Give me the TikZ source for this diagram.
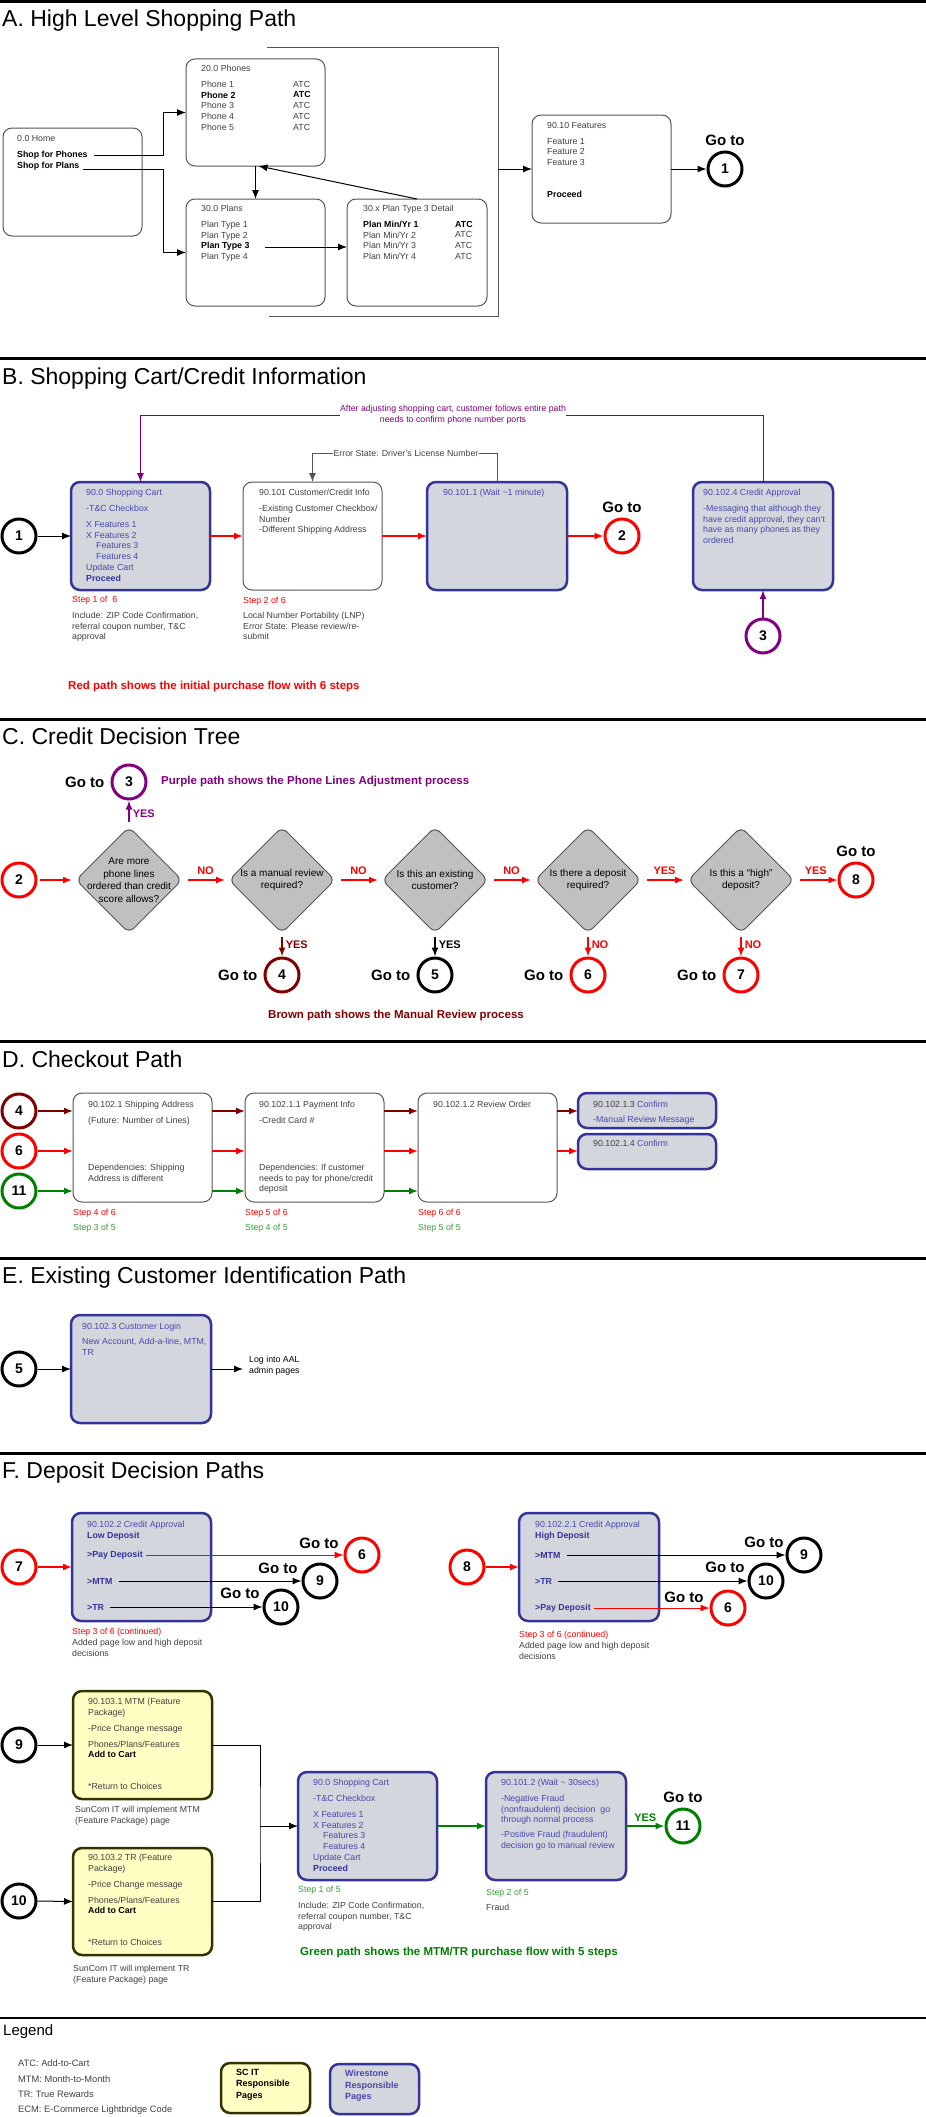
\documentclass[tikz,border=0pt]{standalone}
\usepackage{fontspec}
\setmainfont{Liberation Sans}
\usetikzlibrary{arrows.meta,positioning,shapes.geometric}
\definecolor{bleubord}{RGB}{51,51,153}
\definecolor{bleutexte}{RGB}{72,72,170}
\definecolor{grisfond}{RGB}{212,214,222}
\definecolor{grisbord}{RGB}{85,85,85}
\definecolor{gristexte}{RGB}{64,64,64}
\definecolor{losangefond}{RGB}{192,192,192}
\definecolor{jaunefond}{RGB}{255,255,196}
\definecolor{olivebord}{RGB}{51,51,0}
\definecolor{rouge}{RGB}{255,0,0}
\definecolor{pourpre}{RGB}{128,0,128}
\definecolor{brun}{RGB}{128,0,0}
\definecolor{vert}{RGB}{0,128,0}
\definecolor{vertclair}{RGB}{50,160,50}

\begin{document}
\begin{tikzpicture}[x=1pt,y=-1pt]
	% Dimensions (MODIFIABLES)
	\def\LargeurBoite{139pt}
	\def\HauteurBoite{108pt}
	% Styles (MODIFIABLES)
	\tikzstyle{fleche}=[-{Latex[length=9pt,width=7pt]},line width=1pt]
	\tikzstyle{flecherouge}=[fleche,color=rouge,line width=1.5pt]
	\tikzstyle{flechebrune}=[fleche,color=brun,line width=1.5pt]
	\tikzstyle{flecheverte}=[fleche,color=vert,line width=1.5pt]
	\tikzstyle{flechepourpre}=[fleche,color=pourpre,line width=1.5pt]
	\tikzstyle{trait}=[line width=1pt,color=grisbord]
	\tikzstyle{separation}=[line width=3pt]
	\tikzstyle{boite}=[draw=grisbord,line width=1pt,fill=white,rounded corners=9pt,inner sep=0,outer sep=0,anchor=north west,minimum width=\LargeurBoite,minimum height=\HauteurBoite]
	\tikzstyle{boiteb}=[boite,draw=bleubord,line width=2.5pt,fill=grisfond]
	\tikzstyle{boitej}=[boite,draw=olivebord,line width=2.5pt,fill=jaunefond]
	\tikzstyle{texte}=[inner sep=0,anchor=north west,align=left,text=gristexte,font=\fontsize{8.8}{10.75}\selectfont]
	\tikzstyle{texteb}=[texte,text=bleutexte]
	\tikzstyle{choix}=[texte,anchor=west,text=bleubord,font=\bfseries\fontsize{8.8}{10.75}\selectfont]
	\tikzstyle{titre}=[inner sep=0,anchor=base west,font=\fontsize{23}{23}\selectfont]
	\tikzstyle{goto}=[inner sep=0,font=\bfseries\fontsize{15}{15}\selectfont]
	\tikzstyle{cercle}=[circle,draw,line width=3pt,minimum size=34pt,inner sep=0,fill=white,font=\bfseries\fontsize{14}{14}\selectfont]
	\tikzstyle{losange}=[diamond,draw=grisbord,line width=1pt,fill=losangefond,rounded corners=7pt,minimum width=106pt,minimum height=106pt,inner sep=0,outer sep=0]
	\tikzstyle{question}=[align=center,inner sep=0,font=\fontsize{10}{12.4}\selectfont]
	\tikzstyle{reponse}=[inner sep=1pt,font=\bfseries\fontsize{11}{11}\selectfont]
	\tikzstyle{chemin}=[inner sep=0,anchor=west,font=\bfseries\fontsize{11.5}{11.5}\selectfont]
	\useasboundingbox (0,0) rectangle (926,2117);
	%
	% A. High Level Shopping Path
	\draw[separation] (0,1.7) -- (926,1.7);
	\node[titre] (titreA) at (2,27) {A. High Level Shopping Path};
	\node[boite] (home) at (3,128) {};
	\node[texte] (homeT) at (17,134.8) {0.0 Home};
	\node[texte,text=black] (shopPh) at (17,150.8) {\bfseries Shop for Phones};
	\node[texte,text=black] (shopPl) at (17,161.8) {\bfseries Shop for Plans};
	\node[boite,minimum height=107pt] (phones) at (186,59) {};
	\node[texte] (phonesT) at (201,64.8) {20.0 Phones};
	\node[texte] (phonesL) at (201,80.8) {Phone 1\\\textbf{\color{black}Phone 2}\\Phone 3\\Phone 4\\Phone 5};
	\node[texte] (phonesA) at (293,80.8) {ATC\\\textbf{\color{black}ATC}\\ATC\\ATC\\ATC};
	\node[boite,minimum height=107pt] (plans) at (186,199) {};
	\node[texte] (plansT) at (201,204.8) {30.0 Plans};
	\node[texte] (plansL) at (201,220.8) {Plan Type 1\\Plan Type 2\\\textbf{\color{black}Plan Type 3}\\Plan Type 4};
	\coordinate (type3) at (265,247);
	\node[boite,minimum width=140pt,minimum height=107pt] (detail) at (347,199) {};
	\node[texte] (detailT) at (363,204.8) {30.x Plan Type 3 Detail};
	\node[texte] (detailL) at (363,220.8) {\textbf{\color{black}Plan Min/Yr 1}\\Plan Min/Yr 2\\Plan Min/Yr 3\\Plan Min/Yr 4};
	\node[texte] (detailA) at (455,220.8) {\textbf{\color{black}ATC}\\ATC\\ATC\\ATC};
	\node[boite] (features) at (532,115) {};
	\node[texte] (featuresT) at (547,121.8) {90.10 Features};
	\node[texte] (featuresL) at (547,137.8) {Feature 1\\Feature 2\\Feature 3\\[21pt]\textbf{\color{black}Proceed}};
	\node[cercle] (unA) at (725,169) {1};
	\node[goto,above=5pt of unA] (allerA) {Go to};
	\coordinate (accolade) at (498,169);
	% Arcs A
	\draw[fleche] ([xshift=6pt]shopPh.east) -| ([xshift=-23pt]phones.west) -- (phones.west);
	\draw[fleche] ([xshift=4pt,yshift=-3pt]shopPl.east) -| ([xshift=-23pt]plans.west) -- (plans.west);
	\draw[fleche] (phones.south) -- (plans.north);
	\draw[fleche] (detail.north) -- ([xshift=3pt]phones.south);
	\draw[fleche] (type3) -- (type3 -| detail.west);
	\draw[trait] (267,48) -- (498,48) -- (498,316) -- (269,316);
	\draw[fleche] (accolade) -- (features.west);
	\draw[fleche] (features.east) -- (unA.west);
	%
	% B. Shopping Cart/Credit Information
	\draw[separation] (0,358) -- (926,358);
	\node[titre] (titreB) at (2,384) {B. Shopping Cart/Credit Information};
	\node[cercle] (unB) at (19,536) {1};
	\node[boiteb] (panier) at (71,482) {};
	\node[texteb] (panierT) at (86,488.8) {90.0 Shopping Cart\\[5.25pt]-T\&C Checkbox\\[5.25pt]X Features 1\\X Features 2\\\hspace*{10pt}Features 3\\\hspace*{10pt}Features 4\\Update Cart\\\textbf{\color{bleubord}Proceed}};
	\node[boite] (client) at (243,482) {};
	\node[texte] (clientT) at (259,488.8) {90.101 Customer/Credit Info\\[5.25pt]-Existing Customer Checkbox/\\Number\\-Different Shipping Address};
	\node[boiteb,minimum width=140pt] (attente) at (427,482) {};
	\node[texteb] (attenteT) at (443,488.8) {90.101.1 (Wait \textasciitilde1 minute)};
	\node[cercle,draw=rouge] (deuxB) at (622,536) {2};
	\node[goto,above=5pt of deuxB] (allerB) {Go to};
	\node[boiteb,minimum width=140pt] (credit) at (693,482) {};
	\node[texteb] (creditT) at (703,488.8) {90.102.4 Credit Approval\\[5.25pt]-Messaging that although they\\have credit approval, they can't\\have as many phones as they\\ordered};
	\node[cercle,draw=pourpre] (troisB) at (763,636) {3};
	\node[texte,anchor=center,align=center,text=pourpre] (retour) at (453,415) {After adjusting shopping cart, customer follows entire path\\needs to confirm phone number ports};
	\node[texte,anchor=center] (erreur) at (406,453) {Error State: Driver's License Number};
	\node[texte,text=rouge] (etape1) at (72,595.8) {Step 1 of\ \ 6};
	\node[texte] (note1) at (72,611.8) {Include: ZIP Code Confirmation,\\referral coupon number, T\&C\\approval};
	\node[texte,text=rouge] (etape2) at (243,596.8) {Step 2 of 6};
	\node[texte] (note2) at (243,611.8) {Local Number Portability (LNP)\\Error State: Please review/re-\\submit};
	\node[chemin,text=rouge] (cheminRouge) at (68,687) {Red path shows the initial purchase flow with 6 steps};
	% Arcs B
	\draw[fleche] (unB.east) -- (panier.west);
	\draw[flecherouge] (panier.east) -- (client.west);
	\draw[flecherouge] (client.east) -- (attente.west);
	\draw[flecherouge] (attente.east) -- (deuxB.west);
	\draw[flechepourpre] (troisB.north) -- (credit.south);
	\draw[line width=1pt,color=pourpre] (credit.north) |- (retour.east);
	\draw[fleche,color=pourpre] (retour.west) -| (panier.north);
	\draw[fleche,color=grisbord] (erreur.west) -| (client.north);
	\draw[trait] (erreur.east) -| (attente.north);
	%
	% C. Credit Decision Tree
	\draw[separation] (0,719) -- (926,719);
	\node[titre] (titreC) at (2,744) {C. Credit Decision Tree};
	\node[cercle,draw=rouge] (deuxC) at (19,880) {2};
	\node[losange] (q1) at (129,880) {};
	\node[question] (q1T) at (q1) {Are more\\phone lines\\ordered than credit\\score allows?};
	\node[losange] (q2) at (282,880) {};
	\node[question] (q2T) at (q2) {Is a manual review\\required?};
	\node[losange] (q3) at (435,880) {};
	\node[question] (q3T) at (q3) {Is this an existing\\customer?};
	\node[losange] (q4) at (588,880) {};
	\node[question] (q4T) at (q4) {Is there a deposit\\required?};
	\node[losange] (q5) at (741,880) {};
	\node[question] (q5T) at (q5) {Is this a ``high''\\deposit?};
	\node[cercle,draw=pourpre] (troisC) at (129,782) {3};
	\node[goto,left=6pt of troisC] (allerC3) {Go to};
	\node[chemin,text=pourpre] (cheminPourpre) at (161,782) {Purple path shows the Phone Lines Adjustment process};
	\node[cercle,draw=rouge] (huitC) at (856,880) {8};
	\node[goto,above=5pt of huitC] (allerC8) {Go to};
	\node[cercle,draw=brun] (quatreC) at (282,975) {4};
	\node[goto,left=6pt of quatreC] (allerC4) {Go to};
	\node[cercle] (cinqC) at (435,975) {5};
	\node[goto,left=6pt of cinqC] (allerC5) {Go to};
	\node[cercle,draw=rouge] (sixC) at (588,975) {6};
	\node[goto,left=6pt of sixC] (allerC6) {Go to};
	\node[cercle,draw=rouge] (septC) at (741,975) {7};
	\node[goto,left=6pt of septC] (allerC7) {Go to};
	\node[chemin,text=brun] (cheminBrun) at (268,1016) {Brown path shows the Manual Review process};
	% Arcs C
	\draw[flecherouge,shorten <=2pt,shorten >=4pt] (deuxC.east) -- (q1.west);
	\draw[flecherouge,shorten <=6pt,shorten >=4pt] (q1.east) -- (q2.west) node[reponse,midway,above=4pt]{NO};
	\draw[flecherouge,shorten <=6pt,shorten >=4pt] (q2.east) -- (q3.west) node[reponse,midway,above=4pt]{NO};
	\draw[flecherouge,shorten <=6pt,shorten >=4pt] (q3.east) -- (q4.west) node[reponse,midway,above=4pt]{NO};
	\draw[flecherouge,shorten <=6pt,shorten >=4pt] (q4.east) -- (q5.west) node[reponse,midway,above=4pt]{YES};
	\draw[flecherouge,shorten <=6pt] (q5.east) -- (huitC.west) node[reponse,midway,above=4pt]{YES};
	\draw[flechepourpre,shorten <=5pt] (q1.north) -- (troisC.south) node[reponse,midway,right=2pt]{YES};
	\draw[flechebrune,shorten <=4pt] (q2.south) -- (quatreC.north) node[reponse,midway,right=2pt]{YES};
	\draw[fleche,line width=1.5pt,shorten <=4pt] (q3.south) -- (cinqC.north) node[reponse,midway,right=2pt]{YES};
	\draw[flecherouge,shorten <=4pt] (q4.south) -- (sixC.north) node[reponse,midway,right=2pt]{NO};
	\draw[flecherouge,shorten <=4pt] (q5.south) -- (septC.north) node[reponse,midway,right=2pt]{NO};
	%
	% D. Checkout Path
	\draw[separation] (0,1041.5) -- (926,1041.5);
	\node[titre] (titreD) at (2,1067) {D. Checkout Path};
	\node[cercle,draw=brun] (quatreD) at (19,1111) {4};
	\node[cercle,draw=rouge] (sixD) at (19,1151) {6};
	\node[cercle,draw=vert] (onzeD) at (19,1191) {11};
	\node[boite,minimum height=109pt] (livraison) at (73,1093) {};
	\node[texte] (livraisonT) at (88,1100.8) {90.102.1 Shipping Address\\[5.25pt](Future: Number of Lines)\\[36.25pt]Dependencies: Shipping\\Address is different};
	\node[boite,minimum height=109pt] (paiement) at (245,1093) {};
	\node[texte] (paiementT) at (259,1100.8) {90.102.1.1 Payment Info\\[5.25pt]-Credit Card \#\\[36.25pt]Dependencies: If customer\\needs to pay for phone/credit\\deposit};
	\node[boite,minimum height=109pt] (revue) at (418,1093) {};
	\node[texte] (revueT) at (433,1100.8) {90.102.1.2 Review Order};
	\node[boiteb,minimum width=138pt,minimum height=35pt] (confirmA) at (578,1093) {};
	\node[texte] (confirmAT) at (593,1100.8) {90.102.1.3 {\color{bleutexte}Confirm}\\[4.25pt]{\color{bleutexte}-Manual Review Message}};
	\node[boiteb,minimum width=138pt,minimum height=35pt] (confirmB) at (578,1134) {};
	\node[texte] (confirmBT) at (593,1140) {90.102.1.4 {\color{bleutexte}Confirm}};
	\node[texte,text=rouge] (etape4) at (73,1208.8) {Step 4 of 6};
	\node[texte,text=vertclair] (etape3v) at (73,1223.8) {Step 3 of 5};
	\node[texte,text=rouge] (etape5) at (245,1208.8) {Step 5 of 6};
	\node[texte,text=vertclair] (etape4v) at (245,1223.8) {Step 4 of 5};
	\node[texte,text=rouge] (etape6) at (418,1208.8) {Step 6 of 6};
	\node[texte,text=vertclair] (etape5v) at (418,1223.8) {Step 5 of 5};
	% Arcs D
	\draw[flechebrune] (quatreD.east) -- (quatreD.east -| livraison.west);
	\draw[flechebrune] (livraison.east |- quatreD) -- (paiement.west |- quatreD);
	\draw[flechebrune] (paiement.east |- quatreD) -- (revue.west |- quatreD);
	\draw[flechebrune] (revue.east |- quatreD) -- (confirmA.west |- quatreD);
	\draw[flecherouge] (sixD.east) -- (sixD.east -| livraison.west);
	\draw[flecherouge] (livraison.east |- sixD) -- (paiement.west |- sixD);
	\draw[flecherouge] (paiement.east |- sixD) -- (revue.west |- sixD);
	\draw[flecherouge] (revue.east |- sixD) -- (confirmB.west |- sixD);
	\draw[flecheverte] (onzeD.east) -- (onzeD.east -| livraison.west);
	\draw[flecheverte] (livraison.east |- onzeD) -- (paiement.west |- onzeD);
	\draw[flecheverte] (paiement.east |- onzeD) -- (revue.west |- onzeD);
	%
	% E. Existing Customer Identification Path
	\draw[separation] (0,1258) -- (926,1258);
	\node[titre] (titreE) at (2,1283) {E. Existing Customer Identification Path};
	\node[cercle] (cinqE) at (19,1369) {5};
	\node[boiteb,minimum width=140pt] (connexion) at (71,1315) {};
	\node[texteb] (connexionT) at (82,1322.8) {90.102.3 Customer Login\\[4.25pt]New Account, Add-a-line, MTM,\\TR};
	\node[texte,anchor=west,text=black] (aal) at (249,1366) {Log into AAL\\admin pages};
	% Arcs E
	\draw[fleche] (cinqE.east) -- (connexion.west);
	\draw[fleche,shorten >=6pt] (connexion.east) -- (connexion.east -| aal.west);
	%
	% F. Deposit Decision Paths
	\draw[separation] (0,1453) -- (926,1453);
	\node[titre] (titreF) at (2,1478) {F. Deposit Decision Paths};
	\node[cercle,draw=rouge] (septF) at (19,1567) {7};
	\node[boiteb] (depotBas) at (72,1513) {};
	\node[texteb] (depotBasT) at (87,1520.8) {90.102.2 Credit Approval\\\textbf{\color{bleubord}Low Deposit}};
	\node[choix] (payerBas) at (87,1555) {>Pay Deposit};
	\node[choix] (mtmBas) at (87,1581) {>MTM};
	\node[choix] (trBas) at (87,1607) {>TR};
	\node[cercle,draw=rouge] (sixF) at (362,1555) {6};
	\node[goto] (allerF6) at ([xshift=-43pt,yshift=12pt]sixF) {Go to};
	\node[cercle] (neufF) at (320,1581) {9};
	\node[goto] (allerF9) at ([xshift=-42pt,yshift=13pt]neufF) {Go to};
	\node[cercle] (dixF) at (281,1607) {10};
	\node[goto] (allerF10) at ([xshift=-41pt,yshift=14pt]dixF) {Go to};
	\node[texte,text=rouge] (etapeBas) at (72,1627.8) {Step 3 of 6 (continued)};
	\node[texte] (noteBas) at (72,1638.8) {Added page low and high deposit\\decisions};
	\node[cercle,draw=rouge] (huitF) at (467,1567) {8};
	\node[boiteb,minimum width=140pt] (depotHaut) at (519,1513) {};
	\node[texteb] (depotHautT) at (535,1520.8) {90.102.2.1 Credit Approval\\\textbf{\color{bleubord}High Deposit}};
	\node[choix] (mtmHaut) at (535,1555) {>MTM};
	\node[choix] (trHaut) at (535,1581) {>TR};
	\node[choix] (payerHaut) at (535,1608) {>Pay Deposit};
	\node[cercle] (neufG) at (804,1555) {9};
	\node[goto] (allerG9) at ([xshift=-40pt,yshift=13pt]neufG) {Go to};
	\node[cercle] (dixG) at (766,1581) {10};
	\node[goto] (allerG10) at ([xshift=-41pt,yshift=14pt]dixG) {Go to};
	\node[cercle,draw=rouge] (sixG) at (728,1608) {6};
	\node[goto] (allerG6) at ([xshift=-44pt,yshift=11pt]sixG) {Go to};
	\node[texte,text=rouge] (etapeHaut) at (519,1630.8) {Step 3 of 6 (continued)};
	\node[texte] (noteHaut) at (519,1641.8) {Added page low and high deposit\\decisions};
	% Arcs F (haut)
	\draw[flecherouge] (septF.east) -- (depotBas.west);
	\draw[fleche,color=rouge,shorten <=3pt] (payerBas.east) -- (sixF.west);
	\draw[fleche,shorten <=6pt] (mtmBas.east) -- (neufF.west);
	\draw[fleche,shorten <=6pt] (trBas.east) -- (dixF.west);
	\draw[flecherouge] (huitF.east) -- (depotHaut.west);
	\draw[fleche,shorten <=6pt] (mtmHaut.east) -- (neufG.west);
	\draw[fleche,shorten <=6pt] (trHaut.east) -- (dixG.west);
	\draw[fleche,color=rouge,shorten <=3pt] (payerHaut.east) -- (sixG.west);
	%
	\node[cercle] (neufH) at (19,1745) {9};
	\node[boitej] (mtmPage) at (73,1691) {};
	\node[texte] (mtmPageT) at (88,1697.8) {90.103.1 MTM (Feature\\Package)\\[5.25pt]-Price Change message\\[5.25pt]Phones/Plans/Features\\\textbf{\color{black}Add to Cart}\\[21pt]*Return to Choices};
	\node[texte] (mtmNote) at (75,1805.8) {SunCom IT will implement MTM\\(Feature Package) page};
	\node[cercle] (dixH) at (19,1901) {10};
	\node[boitej,minimum height=107pt] (trPage) at (73,1848) {};
	\node[texte] (trPageT) at (88,1853.8) {90.103.2 TR (Feature\\Package)\\[5.25pt]-Price Change message\\[5.25pt]Phones/Plans/Features\\\textbf{\color{black}Add to Cart}\\[21pt]*Return to Choices};
	\node[texte] (trNote) at (73,1964.8) {SunCom IT will implement TR\\(Feature Package) page};
	\coordinate (jonction) at (260,1826);
	\node[boiteb] (panierF) at (298,1772) {};
	\node[texteb] (panierFT) at (313,1778.8) {90.0 Shopping Cart\\[5.25pt]-T\&C Checkbox\\[5.25pt]X Features 1\\X Features 2\\\hspace*{10pt}Features 3\\\hspace*{10pt}Features 4\\Update Cart\\\textbf{\color{bleubord}Proceed}};
	\node[texte,text=vertclair] (etapeV1) at (298,1885.8) {Step 1 of 5};
	\node[texte] (noteV1) at (298,1901.8) {Include: ZIP Code Confirmation,\\referral coupon number, T\&C\\approval};
	\node[chemin,text=vert] (cheminVert) at (300,1953) {Green path shows the MTM/TR purchase flow with 5 steps};
	\node[boiteb,minimum width=140pt] (fraude) at (486,1772) {};
	\node[texteb] (fraudeT) at (501,1778.8) {90.101.2 (Wait \textasciitilde{} 30secs)\\[5.25pt]-Negative Fraud\\(nonfraudulent) decision\ \ go\\through normal process\\[4.25pt]-Positive Fraud (fraudulent)\\decision go to manual review};
	\node[texte,text=vertclair] (etapeV2) at (486,1888.8) {Step 2 of 5};
	\node[texte] (noteV2) at (486,1903.8) {Fraud};
	\node[cercle,draw=vert] (onzeF) at (683,1826) {11};
	\node[goto,above=5pt of onzeF] (allerF11) {Go to};
	% Arcs F (bas)
	\draw[fleche] (neufH.east) -- (mtmPage.west);
	\draw[fleche] (dixH.east) -- (trPage.west);
	\draw[trait,color=black] (mtmPage.east) -| (jonction) |- (trPage.east);
	\draw[fleche] (jonction) -- (panierF.west);
	\draw[flecheverte] (panierF.east) -- (fraude.west);
	\draw[flecheverte] (fraude.east) -- (onzeF.west) node[reponse,midway,above=3pt]{YES};
	%
	% Legend
	\draw[line width=2pt] (0,2018) -- (926,2018);
	\node[inner sep=0,anchor=west,font=\fontsize{15}{15}\selectfont] (legende) at (3,2032) {Legend};
	\node[texte,anchor=west,font=\fontsize{9.3}{9.3}\selectfont] (legATC) at (18,2063) {ATC: Add-to-Cart};
	\node[texte,anchor=west,font=\fontsize{9.3}{9.3}\selectfont] (legMTM) at (18,2079) {MTM: Month-to-Month};
	\node[texte,anchor=west,font=\fontsize{9.3}{9.3}\selectfont] (legTR) at (18,2094) {TR: True Rewards};
	\node[texte,anchor=west,font=\fontsize{9.3}{9.3}\selectfont] (legECM) at (18,2110) {ECM: E-Commerce Lightbridge Code};
	\node[boitej,minimum width=89pt,minimum height=50pt] (legJaune) at (221,2063) {};
	\node[texte,text=black,font=\bfseries\fontsize{9}{11.5}\selectfont] (legJauneT) at (236,2068.8) {SC IT\\Responsible\\Pages};
	\node[boiteb,minimum width=89pt,minimum height=50pt] (legBleu) at (330,2064) {};
	\node[texte,text=bleutexte,font=\bfseries\fontsize{9}{11.5}\selectfont] (legBleuT) at (345,2069.8) {Wirestone\\Responsible\\Pages};
\end{tikzpicture}
\end{document}
